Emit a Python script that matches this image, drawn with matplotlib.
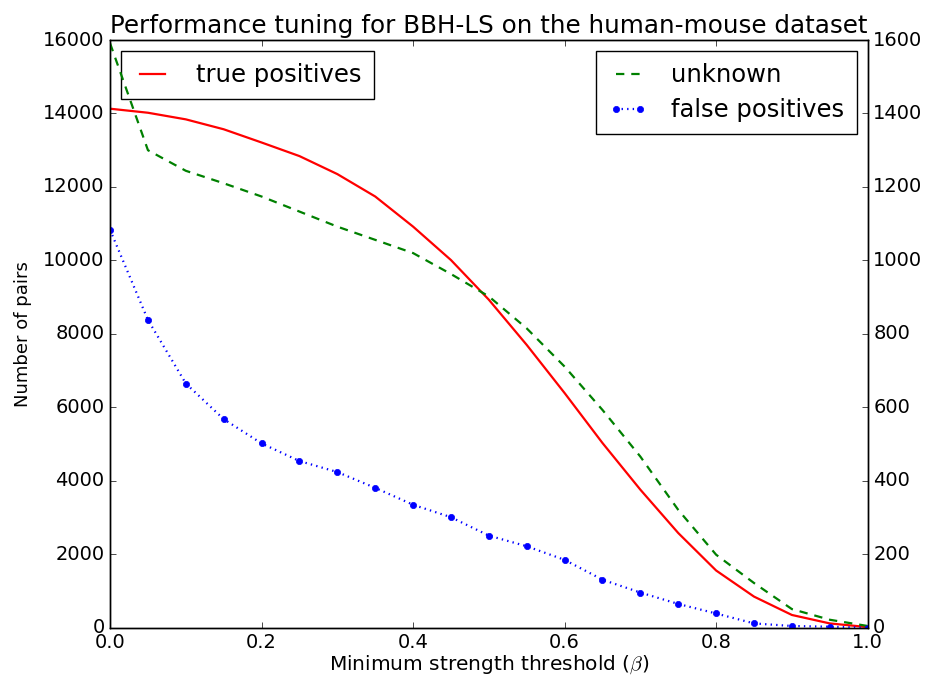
import matplotlib
matplotlib.use("Agg")
import matplotlib.pyplot as plt
import numpy as np

# threshold values
beta = [0.0, 0.05, 0.1, 0.15, 0.2, 0.25, 0.3, 0.35, 0.4, 0.45, 0.5,
        0.55, 0.6, 0.65, 0.7, 0.75, 0.8, 0.85, 0.9, 0.95, 1.0]

# left axis
true_pos = [14130, 14020, 13840, 13570, 13210, 12840, 12350, 11740, 10920, 10010, 8930,
            7700, 6390, 5030, 3760, 2580, 1560, 850, 350, 120, 20]

# right axis
unknown = [1591, 1300, 1244, 1210, 1174, 1133, 1092, 1056, 1020, 963, 902,
           815, 711, 593, 466, 321, 199, 122, 51, 22, 5]
false_pos = [1083, 838, 665, 568, 502, 454, 424, 381, 335, 301, 251,
             222, 185, 131, 96, 65, 39, 12, 5, 3, 0]

plt.style.use('classic')
fig = plt.figure(figsize=(9.25, 6.78), dpi=100, facecolor='white')
ax = fig.add_axes([0.119, 0.074, 0.819, 0.867])
ax2 = ax.twinx()

ax.plot(beta, true_pos, 'r-', lw=1.6, label='true positives')
ax2.plot(beta, unknown, 'g--', lw=1.6, dashes=(6, 5), label='unknown')
ax2.plot(beta, false_pos, 'b:', marker='o', ms=4.5, mec='b', lw=1.6, label='false positives')

ax.set_xlim(0, 1.0)
ax.set_ylim(0, 16000)
ax2.set_ylim(0, 1600)
ax.set_xticks(np.arange(0, 1.01, 0.2))
ax.set_yticks(np.arange(0, 16001, 2000))
ax2.set_yticks(np.arange(0, 1601, 200))

ax.tick_params(labelsize=14)
ax2.tick_params(labelsize=14)
ax.set_title('Performance tuning for BBH-LS on the human-mouse dataset', fontsize=17.7, pad=5)
ax.set_xlabel(r'Minimum strength threshold ($\beta$)', fontsize=14.5, labelpad=1)
ax.set_ylabel('Number of pairs', fontsize=13, labelpad=8)

leg_kw = dict(fontsize=17.5, handlelength=1.6, handletextpad=1.0,
              borderaxespad=0.45, borderpad=0.5, labelspacing=0.45)
ax.legend(loc='upper left', **leg_kw)
ax2.legend(loc='upper right', **leg_kw)

fig.savefig('out.png', dpi=100, facecolor='white')
